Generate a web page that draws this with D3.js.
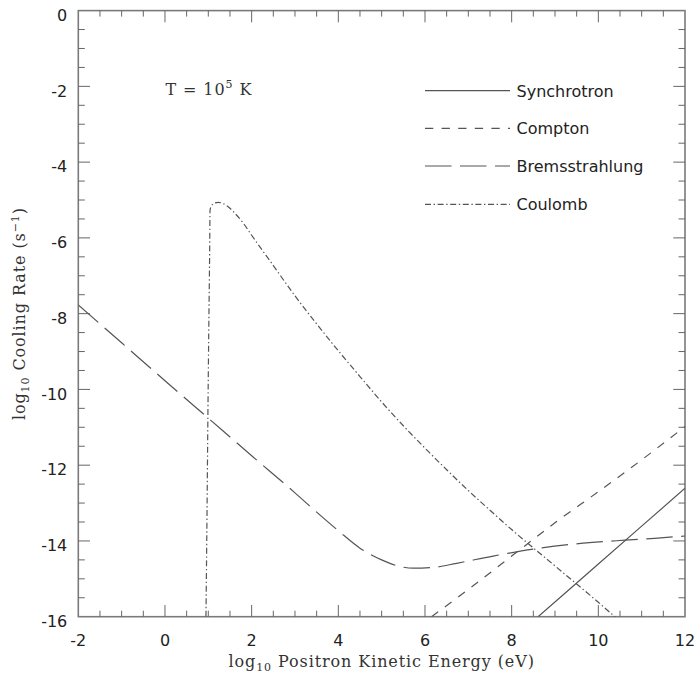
<!DOCTYPE html>
<html><head><meta charset="utf-8">
<script src="https://cdn.jsdelivr.net/npm/d3@7"></script>
<style>
html,body{margin:0;padding:0;background:#fff;}
svg{display:block;}
</style></head>
<body>
<script>
// ---- Data ----
const xTickValues = [-2, 0, 2, 4, 6, 8, 10, 12];
const yTickValues = [0, -2, -4, -6, -8, -10, -12, -14, -16];

const synchrotronX = [8.61, 10, 12];
const synchrotronY = [-16, -14.61, -12.61];

const comptonX = [6.15, 7, 8, 9, 10, 11, 12];
const comptonY = [-16, -15.28, -14.4, -13.52, -12.7, -11.86, -10.98];

const bremsX = [-2, -1, 0, 1, 2, 3, 3.5, 4, 4.5, 5, 5.4, 5.73, 6.2, 6.73, 7.57, 8.53, 9.65, 10.61, 11.3, 12];
const bremsY = [-7.77, -8.77, -9.77, -10.76, -11.75, -12.73, -13.24, -13.73, -14.19, -14.5, -14.67, -14.72, -14.7, -14.59, -14.4, -14.21, -14.06, -13.98, -13.93, -13.87];

const coulombX = [0.946, 0.97, 0.99, 1.01, 1.03, 1.04, 1.07, 1.13, 1.23, 1.35, 1.45, 1.58, 1.8, 2, 2.5, 3, 3.5, 4, 4.5, 5, 5.5, 6, 6.5, 7, 7.5, 8, 9, 10, 10.4];
const coulombY = [-16, -13.3, -10.76, -8.5, -6.5, -5.27, -5.16, -5.09, -5.06, -5.1, -5.17, -5.31, -5.6, -5.93, -6.73, -7.53, -8.27, -8.98, -9.66, -10.33, -10.96, -11.55, -12.12, -12.67, -13.19, -13.7, -14.66, -15.62, -16.02];

const seriesNames = ["Synchrotron", "Compton", "Bremsstrahlung", "Coulomb"];

// ---- Layout ----
const W = 700, H = 679;
const L = 78.3, R = 685, T = 10.6, B = 616.7;
const ink = "#555";
const dashes = {
  "Synchrotron": null,
  "Compton": "8.3,8.3",
  "Bremsstrahlung": "26.5,8.5",
  "Coulomb": "6,2.6,1.4,2.6"
};

const svg = d3.select("body").append("svg").attr("width", W).attr("height", H);
const x = d3.scaleLinear().domain([-2, 12]).range([L, R]);
const y = d3.scaleLinear().domain([-16, 0]).range([B, T]);

svg.append("defs").append("clipPath").attr("id", "clip")
  .append("rect").attr("x", L).attr("y", T).attr("width", R - L).attr("height", B - T);

// frame
svg.append("rect").attr("x", L).attr("y", T).attr("width", R - L).attr("height", B - T)
  .attr("fill", "none").attr("stroke", "#7a7a7a").attr("stroke-width", 1.6);

// ticks
const minorX = d3.range(-2, 12.001, 0.5);
const minorY = d3.range(-16, 0.001, 0.5);
const isMajor = v => Math.abs(v / 2 - Math.round(v / 2)) < 1e-6;
const tg = svg.append("g").attr("stroke", "#666").attr("stroke-width", 1);
minorX.forEach(v => {
  if (v <= -2 || v >= 12) return;
  const len = isMajor(v) ? 11.7 : 6;
  tg.append("line").attr("x1", x(v)).attr("x2", x(v)).attr("y1", B).attr("y2", B - len);
  tg.append("line").attr("x1", x(v)).attr("x2", x(v)).attr("y1", T).attr("y2", T + len);
});
minorY.forEach(v => {
  if (v <= -16 || v >= 0) return;
  const len = isMajor(v) ? 11.7 : 6.5;
  tg.append("line").attr("y1", y(v)).attr("y2", y(v)).attr("x1", L).attr("x2", L + len);
  tg.append("line").attr("y1", y(v)).attr("y2", y(v)).attr("x1", R).attr("x2", R - len);
});

// tick labels
const lblFont = "'DejaVu Sans', sans-serif";
svg.append("g").selectAll("text").data(xTickValues).join("text")
  .attr("x", d => x(d)).attr("y", B + 29.5)
  .attr("text-anchor", "middle").attr("font-family", lblFont).attr("font-size", 16).attr("fill", "#222")
  .text(d => d);
svg.append("g").selectAll("text").data(yTickValues).join("text")
  .attr("x", L - 11).attr("y", d => y(d) + 10.2)
  .attr("text-anchor", "end").attr("font-family", lblFont).attr("font-size", 16).attr("fill", "#222")
  .text(d => d);

// axis titles
const serif = "'DejaVu Serif', serif";
const xt = svg.append("text").attr("x", (L + R) / 2).attr("y", 667)
  .attr("text-anchor", "middle").attr("font-family", serif).attr("font-size", 16)
  .attr("letter-spacing", 0.9).attr("fill", "#333");
xt.append("tspan").text("log");
xt.append("tspan").attr("font-size", 11).attr("dy", 4).text("10");
xt.append("tspan").attr("dy", -4).text(" Positron Kinetic Energy (eV)");

const yt = svg.append("text").attr("transform", `translate(25,${(T + B) / 2}) rotate(-90)`)
  .attr("text-anchor", "middle").attr("font-family", serif).attr("font-size", 16)
  .attr("letter-spacing", 0.9).attr("fill", "#333");
yt.append("tspan").text("log");
yt.append("tspan").attr("font-size", 11).attr("dy", 4).text("10");
yt.append("tspan").attr("dy", -4).text(" Cooling Rate (s");
yt.append("tspan").attr("font-size", 11).attr("dy", -6).text("−1");
yt.append("tspan").attr("dy", 6).text(")");

// annotation
const ann = svg.append("text").attr("x", 165.5).attr("y", 95).attr("font-family", serif)
  .attr("font-size", 16).attr("letter-spacing", 0.9).attr("fill", "#333").attr("xml:space", "preserve");
ann.append("tspan").text("T = 10");
ann.append("tspan").attr("font-size", 11).attr("dy", -7).text("5");
ann.append("tspan").attr("dy", 7).text(" K");

// curves
const line = d3.line().x(d => x(d[0])).y(d => y(d[1])).curve(d3.curveMonotoneX);
const series = [
  {name: "Synchrotron", xs: synchrotronX, ys: synchrotronY},
  {name: "Compton", xs: comptonX, ys: comptonY},
  {name: "Bremsstrahlung", xs: bremsX, ys: bremsY},
  {name: "Coulomb", xs: coulombX, ys: coulombY}
];
const cg = svg.append("g").attr("clip-path", "url(#clip)");
series.forEach(s => {
  const pts = s.xs.map((v, i) => [v, s.ys[i]]);
  cg.append("path").attr("d", line(pts)).attr("fill", "none").attr("stroke", ink)
    .attr("stroke-width", 1.2).attr("stroke-dasharray", dashes[s.name]);
});

// legend
const legY = [90.7, 128.3, 166, 204.3];
seriesNames.forEach((n, i) => {
  svg.append("line").attr("x1", 425).attr("x2", 510).attr("y1", legY[i]).attr("y2", legY[i])
    .attr("stroke", ink).attr("stroke-width", 1.2).attr("stroke-dasharray", dashes[n]);
  svg.append("text").attr("x", 516.5).attr("y", legY[i] + 5.8).attr("font-family", lblFont)
    .attr("font-size", 16).attr("fill", "#222").text(n);
});
</script>
</body></html>
